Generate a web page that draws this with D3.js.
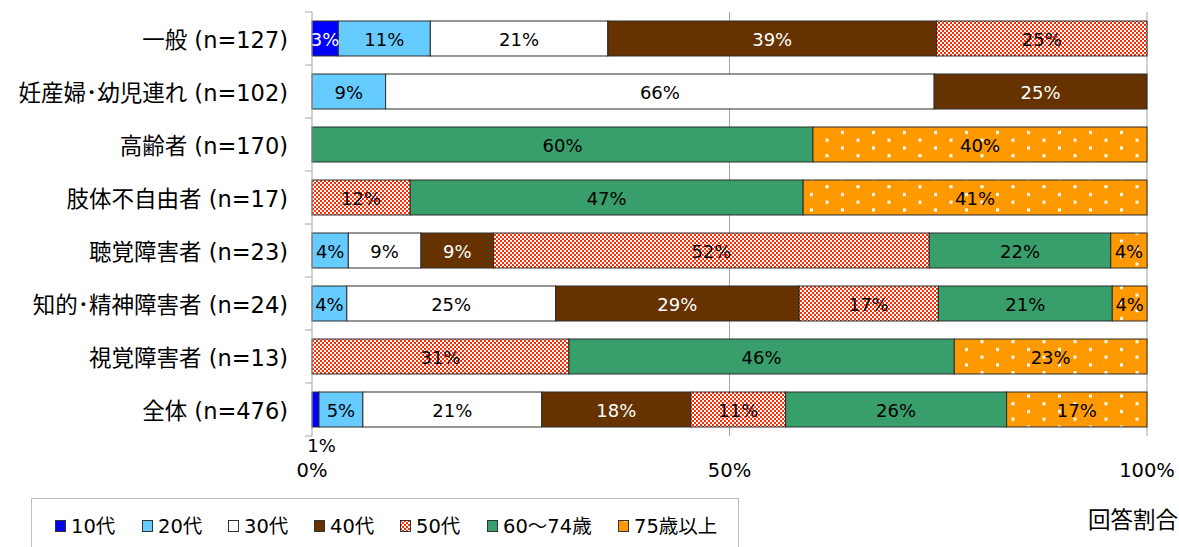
<!DOCTYPE html>
<html><head><meta charset="utf-8">
<script src="https://cdn.jsdelivr.net/npm/d3@7"></script>
<style>
html,body{margin:0;padding:0;background:#fff;}
svg{display:block;font-family:"DejaVu Sans","Noto Sans CJK JP",sans-serif;}
</style></head>
<body><svg id="c" width="1179" height="547"></svg>
<script>
const categories = ["一般 (n=127)", "妊産婦･幼児連れ (n=102)", "高齢者 (n=170)", "肢体不自由者 (n=17)", "聴覚障害者 (n=23)", "知的･精神障害者 (n=24)", "視覚障害者 (n=13)", "全体 (n=476)"];
const seriesNames = ["10代", "20代", "30代", "40代", "50代", "60～74歳", "75歳以上"];
const s10   = [3.15, 0, 0, 0, 0, 0, 0, 0.84];
const s20   = [11.02, 8.82, 0, 0, 4.35, 4.17, 0, 5.25];
const s30   = [21.26, 65.69, 0, 0, 8.70, 25.00, 0, 21.43];
const s40   = [39.37, 25.49, 0, 0, 8.70, 29.17, 0, 17.86];
const s50   = [25.20, 0, 0, 11.76, 52.17, 16.67, 30.77, 11.34];
const s6074 = [0, 0, 60.00, 47.06, 21.74, 20.83, 46.15, 26.47];
const s75   = [0, 0, 40.00, 41.18, 4.35, 4.17, 23.08, 16.81];
const xTicks = [0, 50, 100];
const xTickLabels = ["0%", "50%", "100%"];
const axisTitle = "回答割合";

const seriesValues = [s10, s20, s30, s40, s50, s6074, s75];
const fills = ["#0000FF", "#66CCFF", "#FFFFFF", "#663300", "url(#p50)", "#389E6C", "url(#p75)"];
const labelColors = ["#fff", "#000", "#000", "#fff", "#000", "#000", "#000"];

const svg = d3.select("#c");
const defs = svg.append("defs");
// 50代 checker pattern
const p50 = defs.append("pattern").attr("id", "p50").attr("patternUnits", "userSpaceOnUse")
  .attr("width", 4).attr("height", 4);
p50.append("rect").attr("width", 4).attr("height", 4).attr("fill", "#fff");
p50.append("rect").attr("x", 0).attr("y", 0).attr("width", 2).attr("height", 2).attr("fill", "#FF2A00");
p50.append("rect").attr("x", 2).attr("y", 2).attr("width", 2).attr("height", 2).attr("fill", "#FF2A00");
// 75歳以上 dotted pattern
const p75 = defs.append("pattern").attr("id", "p75").attr("patternUnits", "userSpaceOnUse")
  .attr("width", 31).attr("height", 15.5).attr("x", 0).attr("y", 0);
p75.append("rect").attr("width", 31).attr("height", 15.5).attr("fill", "#FF9900");
p75.append("rect").attr("x", 4).attr("y", 7).attr("width", 3).attr("height", 3).attr("fill", "#fff");
p75.append("rect").attr("x", 19.5).attr("y", 14.7).attr("width", 3).attr("height", 3).attr("fill", "#fff");
p75.append("rect").attr("x", 19.5).attr("y", -0.8).attr("width", 3).attr("height", 3).attr("fill", "#fff");

const x = d3.scaleLinear().domain([0, 100]).range([312, 1147]);
const y = d3.scaleBand().domain(categories).range([12, 436]).paddingInner(0.34).paddingOuter(0.17);

// gridlines
svg.append("g").selectAll("line").data(xTicks.filter(d => d > 0)).join("line")
  .attr("x1", d => x(d)).attr("x2", d => x(d)).attr("y1", 12).attr("y2", 436)
  .attr("stroke", "#A6A6A6").attr("stroke-width", 1);

// stacked data
const rows = categories.map((c, i) => {
  const o = {cat: c};
  seriesNames.forEach((s, j) => o[s] = seriesValues[j][i]);
  return o;
});
const stack = d3.stack().keys(seriesNames)(rows);

const g = svg.append("g");
stack.forEach((layer, j) => {
  layer.forEach((d, i) => {
    const v = d[1] - d[0];
    if (v <= 0) return;
    const cat = categories[i];
    g.append("rect")
      .attr("x", x(d[0])).attr("y", y(cat))
      .attr("width", x(d[1]) - x(d[0])).attr("height", y.bandwidth())
      .attr("fill", fills[j]).attr("stroke", "#2b2b2b").attr("stroke-width", 1);
  });
});
stack.forEach((layer, j) => {
  layer.forEach((d, i) => {
    const v = d[1] - d[0];
    if (v <= 0) return;
    const cat = categories[i];
    const small = v < 2;
    g.append("text")
      .attr("x", small ? (x(d[0]) + x(d[1])) / 2 + 6 : (x(d[0]) + x(d[1])) / 2)
      .attr("y", small ? y(cat) + y.bandwidth() + 19 : y(cat) + y.bandwidth() / 2 + 1)
      .attr("text-anchor", "middle").attr("dominant-baseline", "central")
      .attr("font-size", 18)
      .attr("fill", small ? "#000" : labelColors[j])
      .text(Math.round(v) + "%");
  });
});

// y axis line and ticks
svg.append("line").attr("x1", 312).attr("x2", 312).attr("y1", 12).attr("y2", 436)
  .attr("stroke", "#A6A6A6");
const bounds = categories.map(c => y(c) - y.step() * 0.17).concat([436]);
svg.append("g").selectAll("line").data(bounds).join("line")
  .attr("x1", 305).attr("x2", 312).attr("y1", d => d).attr("y2", d => d)
  .attr("stroke", "#A6A6A6");

// category labels
svg.append("g").selectAll("text").data(categories).join("text")
  .attr("x", 288).attr("y", d => y(d) + y.bandwidth() / 2 + 1)
  .attr("text-anchor", "end").attr("dominant-baseline", "central")
  .attr("font-size", 22.5).attr("fill", "#000").text(d => d);

// x tick labels
svg.append("g").selectAll("text").data(xTicks).join("text")
  .attr("x", (d) => x(d)).attr("y", 470)
  .attr("text-anchor", "middle").attr("dominant-baseline", "central")
  .attr("font-size", 19.5).attr("fill", "#000").text((d, i) => xTickLabels[i]);

// axis title
svg.append("text").attr("x", 1178).attr("y", 520).attr("text-anchor", "end")
  .attr("dominant-baseline", "central").attr("font-size", 22.5).attr("fill", "#000").text(axisTitle);

// legend
svg.append("rect").attr("x", 31.5).attr("y", 498.5).attr("width", 707).attr("height", 60)
  .attr("fill", "#fff").attr("stroke", "#BFBFBF");
const legX = [55, 142, 228, 314, 400, 487, 618];
const lg = svg.append("g");
seriesNames.forEach((s, j) => {
  lg.append("rect").attr("x", legX[j] + 0.5).attr("y", 520.5).attr("width", 10).attr("height", 11)
    .attr("fill", fills[j]).attr("stroke", "#333");
  lg.append("text").attr("x", legX[j] + 16).attr("y", 526).attr("dominant-baseline", "central")
    .attr("font-size", 19.5).attr("fill", "#000").text(s);
});
</script></body></html>
